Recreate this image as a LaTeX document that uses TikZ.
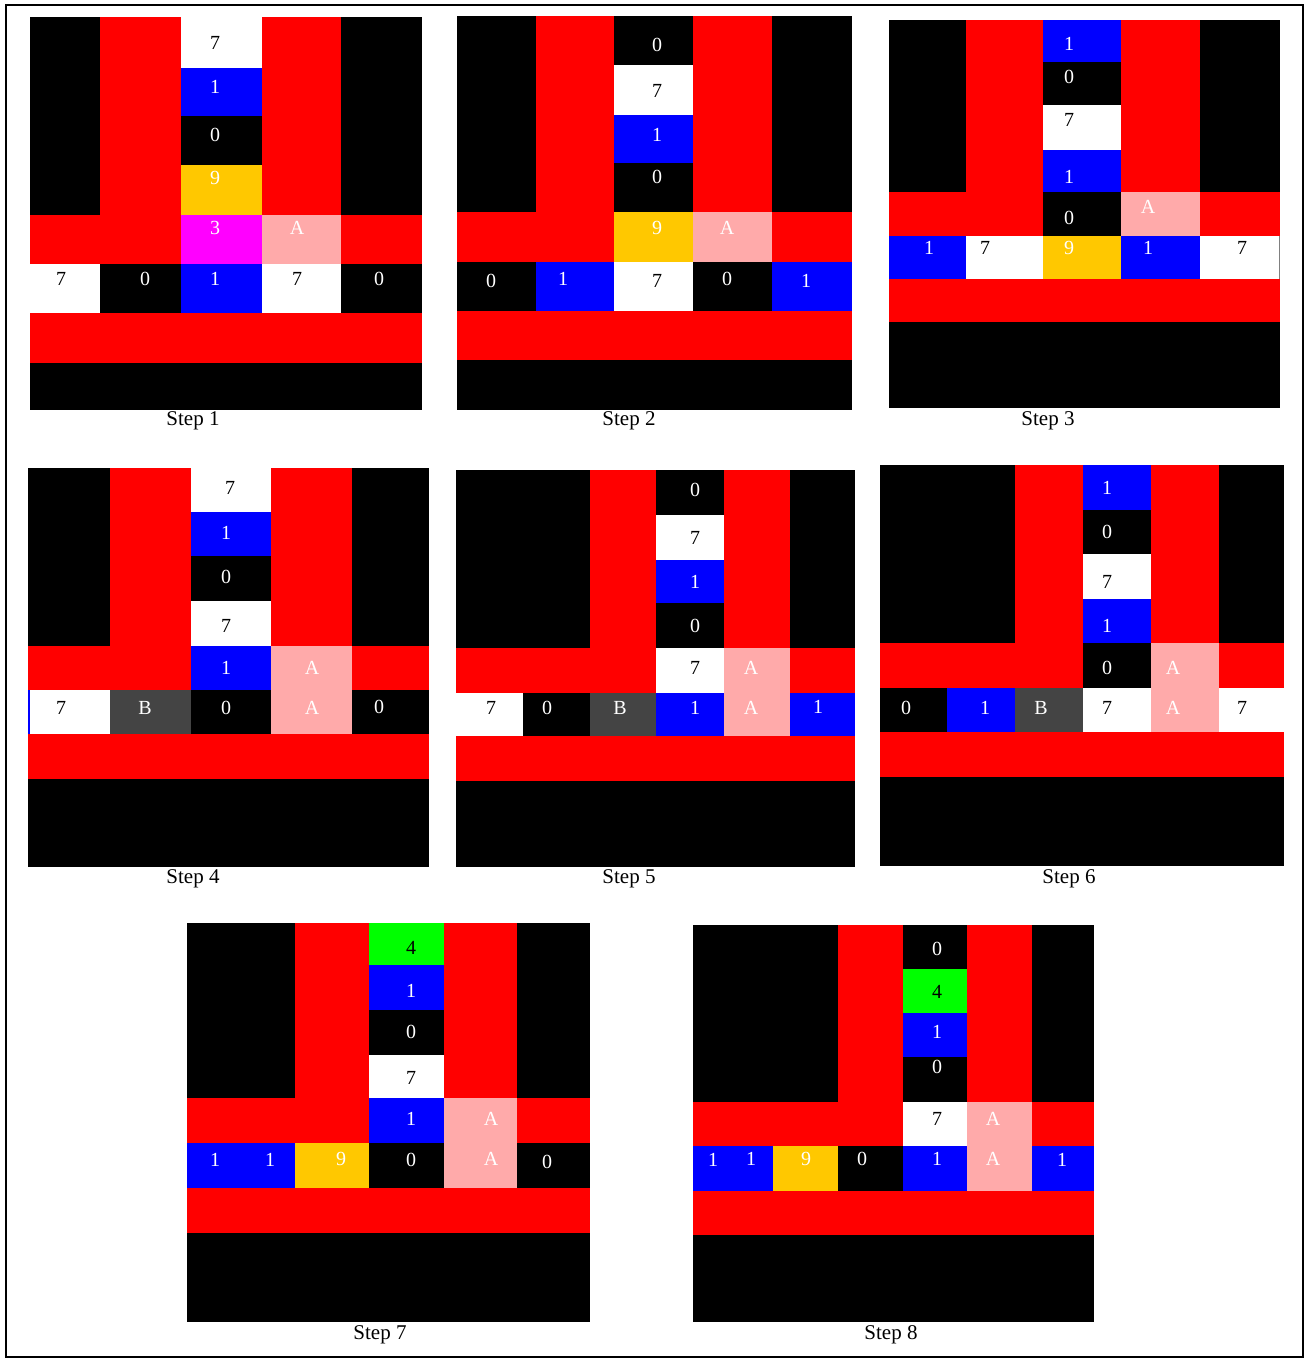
\documentclass[tikz,border=0pt]{standalone}
\usepackage{fontspec}
\setmainfont{Liberation Serif}
\definecolor{cellyellow}{HTML}{FFC800}
\definecolor{cellpink}{HTML}{FFAAAA}
\definecolor{cellgrey}{HTML}{444444}
\definecolor{cellgreen}{HTML}{00FF00}
\definecolor{cellmagenta}{HTML}{FF00FF}
\tikzset{
  digit/.style={font=\fontsize{20}{24}\selectfont, inner sep=0pt},
  steplabel/.style={font=\fontsize{21}{25}\selectfont, inner sep=0pt},
}
\begin{document}
\begin{tikzpicture}[x=1pt,y=-1pt]
\useasboundingbox (0,0) rectangle (1308,1360);
\draw[line width=1.5pt] (6,5) rectangle (1303,1357);

%Step 1:
\fill[black] (30,17) rectangle (422,410);
\fill[red] (100,17) rectangle (181,264);
\fill[red] (262,17) rectangle (341,264);
\fill[red] (30,215) rectangle (422,264);
\fill[red] (30,313) rectangle (422,363);
\foreach \xa/\ya/\xb/\yb/\c in {181/17/262/68/white, 181/68/262/116/blue, 181/165/262/215/cellyellow,
  181/215/262/264/cellmagenta, 262/215/341/264/cellpink, 30/264/100/313/white, 181/264/262/313/blue,
  262/264/341/313/white}
  \fill[\c] (\xa,\ya) rectangle (\xb,\yb);
\foreach \x/\y/\t/\c [count=\i] in {215/43/7/black, 215/87/1/white, 215/135/0/white, 215/178/9/white,
  215/228/3/white, 297/228/A/white, 61/279/7/black, 145/279/0/white, 215/279/1/white, 297/279/7/black,
  379/279/0/white}
  \node[digit,text=\c] (s1-\i) at (\x,\y) {\t};
\node[steplabel] (cap1) at (193,421) {Step 1};

%Step 2:
\fill[black] (457,16) rectangle (852,410);
\fill[red] (536,16) rectangle (614,262);
\fill[red] (693,16) rectangle (772,262);
\fill[red] (457,212) rectangle (852,262);
\fill[red] (457,311) rectangle (852,360);
\foreach \xa/\ya/\xb/\yb/\c in {614/65/693/115/white, 614/115/693/163/blue, 614/212/693/262/cellyellow,
  693/212/772/262/cellpink, 536/262/614/311/blue, 614/262/693/311/white, 772/262/852/311/blue}
  \fill[\c] (\xa,\ya) rectangle (\xb,\yb);
\foreach \x/\y/\t/\c [count=\i] in {657/45/0/white, 657/91/7/black, 657/135/1/white, 657/177/0/white,
  657/228/9/white, 727/228/A/white, 491/281/0/white, 563/279/1/white, 657/281/7/black, 727/279/0/white,
  806/281/1/white}
  \node[digit,text=\c] (s2-\i) at (\x,\y) {\t};
\node[steplabel] (cap2) at (629,421) {Step 2};

%Step 3:
\fill[black] (889,20) rectangle (1280,408);
\fill[red] (966,20) rectangle (1043,236);
\fill[red] (1121,20) rectangle (1200,236);
\fill[red] (889,192) rectangle (1280,236);
\fill[red] (889,279) rectangle (1280,322);
\foreach \xa/\ya/\xb/\yb/\c in {1043/20/1121/62/blue, 1043/105/1121/150/white, 1043/150/1121/192/blue,
  1043/192/1121/236/black, 1121/192/1200/236/cellpink, 889/236/966/279/blue, 966/236/1043/279/white,
  1043/236/1121/279/cellyellow, 1121/236/1200/279/blue, 1200/236/1280/279/white}
  \fill[\c] (\xa,\ya) rectangle (\xb,\yb);
\draw[gray] (1279,236) -- (1279,279);
\foreach \x/\y/\t/\c [count=\i] in {1069/44/1/white, 1069/77/0/white, 1069/120/7/black, 1069/177/1/white,
  1069/218/0/white, 1148/207/A/white, 929/248/1/white, 985/248/7/black, 1069/248/9/white,
  1148/248/1/white, 1242/248/7/black}
  \node[digit,text=\c] (s3-\i) at (\x,\y) {\t};
\node[steplabel] (cap3) at (1048,421) {Step 3};

%Step 4:
\fill[black] (28,468) rectangle (429,867);
\fill[red] (110,468) rectangle (191,690);
\fill[red] (271,468) rectangle (352,690);
\fill[red] (28,646) rectangle (429,690);
\fill[red] (28,734) rectangle (429,779);
\foreach \xa/\ya/\xb/\yb/\c in {191/468/271/512/white, 191/512/271/556/blue, 191/601/271/646/white,
  191/646/271/690/blue, 271/646/352/734/cellpink, 28/690/110/734/white, 28/690/30/734/blue,
  110/690/191/734/cellgrey}
  \fill[\c] (\xa,\ya) rectangle (\xb,\yb);
\foreach \x/\y/\t/\c [count=\i] in {230/488/7/black, 226/533/1/white, 226/577/0/white, 226/626/7/black,
  226/668/1/white, 312/668/A/white, 61/708/7/black, 145/708/B/white, 226/708/0/white, 312/708/A/white,
  379/707/0/white}
  \node[digit,text=\c] (s4-\i) at (\x,\y) {\t};
\node[steplabel] (cap4) at (193,879) {Step 4};

%Step 5:
\fill[black] (456,470) rectangle (855,867);
\fill[red] (590,470) rectangle (656,736);
\fill[red] (724,470) rectangle (790,693);
\fill[red] (456,648) rectangle (855,693);
\fill[red] (456,736) rectangle (855,781);
\foreach \xa/\ya/\xb/\yb/\c in {656/515/724/560/white, 656/560/724/603/blue, 656/648/724/693/white,
  724/648/790/736/cellpink, 456/693/523/736/white, 590/693/656/736/cellgrey, 656/693/724/736/blue,
  790/693/855/736/blue}
  \fill[\c] (\xa,\ya) rectangle (\xb,\yb);
\foreach \x/\y/\t/\c [count=\i] in {695/490/0/white, 695/538/7/black, 695/582/1/white, 695/626/0/white,
  695/668/7/black, 751/668/A/white, 491/708/7/black, 547/708/0/white, 620/708/B/white, 695/708/1/white,
  751/708/A/white, 818/707/1/white}
  \node[digit,text=\c] (s5-\i) at (\x,\y) {\t};
\node[steplabel] (cap5) at (629,879) {Step 5};

%Step 6:
\fill[black] (880,465) rectangle (1284,866);
\fill[red] (1015,465) rectangle (1083,732);
\fill[red] (1151,465) rectangle (1219,688);
\fill[red] (880,643) rectangle (1284,688);
\fill[red] (880,732) rectangle (1284,777);
\foreach \xa/\ya/\xb/\yb/\c in {1083/465/1151/510/blue, 1083/554/1151/599/white, 1083/599/1151/643/blue,
  1083/643/1151/688/black, 1151/643/1219/732/cellpink, 880/688/947/732/black, 947/688/1015/732/blue,
  1015/688/1083/732/cellgrey, 1083/688/1151/732/white, 1219/688/1284/732/white}
  \fill[\c] (\xa,\ya) rectangle (\xb,\yb);
\foreach \x/\y/\t/\c [count=\i] in {1107/488/1/white, 1107/532/0/white, 1107/582/7/black, 1107/626/1/white,
  1107/668/0/white, 1173/668/A/white, 906/708/0/white, 985/708/1/white, 1041/708/B/white,
  1107/708/7/black, 1173/708/A/white, 1242/708/7/black}
  \node[digit,text=\c] (s6-\i) at (\x,\y) {\t};
\node[steplabel] (cap6) at (1069,879) {Step 6};

%Step 7:
\fill[black] (187,923) rectangle (590,1322);
\fill[red] (295,923) rectangle (369,1188);
\fill[red] (444,923) rectangle (517,1143);
\fill[red] (187,1098) rectangle (590,1143);
\fill[red] (187,1188) rectangle (590,1233);
\foreach \xa/\ya/\xb/\yb/\c in {369/923/444/965/cellgreen, 369/965/444/1010/blue, 369/1055/444/1098/white,
  369/1098/444/1143/blue, 444/1098/517/1188/cellpink, 187/1143/295/1188/blue,
  295/1143/369/1188/cellyellow, 369/1143/444/1188/black, 517/1143/590/1188/black}
  \fill[\c] (\xa,\ya) rectangle (\xb,\yb);
\foreach \x/\y/\t/\c [count=\i] in {411/948/4/black, 411/991/1/white, 411/1032/0/white, 411/1078/7/black,
  411/1119/1/white, 491/1119/A/white, 215/1160/1/white, 270/1160/1/white, 341/1159/9/white,
  411/1160/0/white, 491/1159/A/white, 547/1162/0/white}
  \node[digit,text=\c] (s7-\i) at (\x,\y) {\t};
\node[steplabel] (cap7) at (380,1335) {Step 7};

%Step 8:
\fill[black] (693,925) rectangle (1094,1322);
\fill[red] (838,925) rectangle (903,1146);
\fill[red] (967,925) rectangle (1032,1146);
\fill[red] (693,1102) rectangle (1094,1146);
\fill[red] (693,1191) rectangle (1094,1235);
\foreach \xa/\ya/\xb/\yb/\c in {903/969/967/1013/cellgreen, 903/1013/967/1057/blue, 903/1102/967/1146/white,
  967/1102/1032/1191/cellpink, 693/1146/773/1191/blue, 773/1146/838/1191/cellyellow,
  838/1146/903/1191/black, 903/1146/967/1191/blue, 1032/1146/1094/1191/blue}
  \fill[\c] (\xa,\ya) rectangle (\xb,\yb);
\foreach \x/\y/\t/\c [count=\i] in {937/949/0/white, 937/992/4/black, 937/1032/1/white, 937/1067/0/white,
  937/1119/7/black, 993/1119/A/white, 713/1160/1/white, 751/1159/1/white, 806/1159/9/white,
  862/1159/0/white, 937/1159/1/white, 993/1159/A/white, 1062/1160/1/white}
  \node[digit,text=\c] (s8-\i) at (\x,\y) {\t};
\node[steplabel] (cap8) at (891,1335) {Step 8};
\end{tikzpicture}
\end{document}
